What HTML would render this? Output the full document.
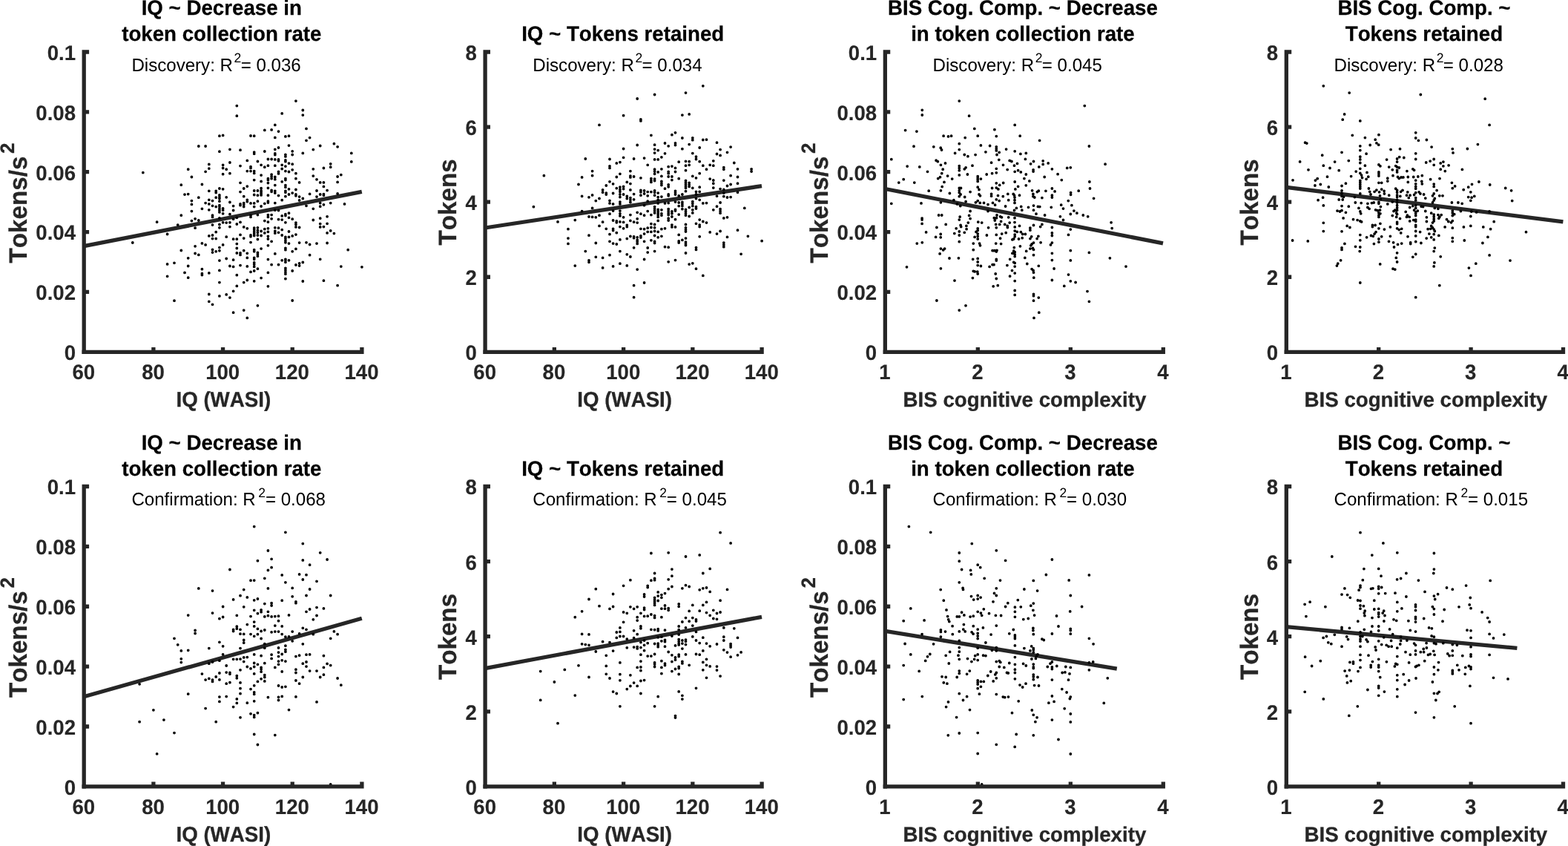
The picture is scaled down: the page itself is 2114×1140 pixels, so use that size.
<!DOCTYPE html>
<html lang="en"><head><meta charset="utf-8"><title>Scatter plots: IQ and BIS cognitive complexity vs token measures</title>
<style>html,body{margin:0;padding:0;background:#fff;overflow:hidden}svg{display:block}text{font-family:"Liberation Sans",sans-serif;font-kerning:none;font-variant-ligatures:none;text-rendering:geometricPrecision}.tk{font-weight:bold;font-size:27.6px;fill:#262626;stroke:#262626;stroke-width:.15px}.lb{font-weight:bold;font-size:27.7px;fill:#262626;stroke:#262626;stroke-width:.3px}.yl{font-weight:bold;font-size:33.2px;fill:#262626;stroke:#262626;stroke-width:.3px}.tt{font-weight:bold;font-size:27.7px;fill:#000;stroke:#000;stroke-width:.25px}.an{font-size:24.1px;fill:#000}.ax{fill:none;stroke:#262626;stroke-width:5.3}.rl{fill:none;stroke:#262626;stroke-width:5.3}.d{fill:none;stroke:#000;stroke-width:3.8;stroke-linecap:round}</style></head><body>
<svg width="2114" height="1140" viewBox="0 0 2114 1140" role="img" aria-label="Eight scatter plots with regression lines">
<rect width="2114" height="1140" fill="#fff"/>
<g id="p00">
<path class="rl" d="M113.2 331.6L487.8 258.4"/>
<path class="d" d="M398.9 136.1h0M319.3 142.6h0M408.3 148.5h0M380.2 152.9h0M408.3 155.1h0M319.3 156.2h0M370.8 168.4h0M413 173.4h0M356.8 175.4h0M366.1 174.9h0M375.5 177.1h0M295.9 183.2h0M300.6 182.4h0M338 183h0M342.7 183.2h0M370.8 185.4h0M384.9 183.9h0M389.5 183.2h0M417.6 185.6h0M413 189.3h0M450.4 193.7h0M267.8 197h0M277.1 197h0M389.5 196.1h0M431.7 196.5h0M455.1 197.8h0M375.5 199h0M309.9 201.3h0M324 202.2h0M370.8 201.3h0M422.3 201.6h0M295.9 204.2h0M356.8 204h0M394.2 203.8h0M342.7 205.1h0M342.7 207.2h0M370.8 206.8h0M370.8 208.5h0M408.3 206.4h0M473.8 206.4h0M384.9 208.5h0M384.9 210.9h0M394.2 208.5h0M361.4 214.5h0M366.1 214.5h0M370.8 214.9h0M375.5 214.9h0M375.5 216.8h0M384.9 215.8h0M384.9 217.7h0M333.3 216.4h0M347.4 217.5h0M473.8 217.9h0M309.9 219h0M281.8 221.4h0M300.6 222.3h0M352.1 222.3h0M361.4 223.2h0M370.8 223.2h0M380.2 222.3h0M384.9 224.1h0M389.5 220.1h0M394.2 221.2h0M445.7 220.8h0M324 223.6h0M338 224.7h0M338 226.4h0M356.8 225.2h0M445.7 225.2h0M300.6 226.5h0M305.2 228.2h0M253.7 228.2h0M281.8 227.1h0M380.2 227.5h0M394.2 228.8h0M422.3 227.8h0M436.4 226.5h0M277.1 231.3h0M333.3 230.6h0M338 230.6h0M342.7 230.6h0M342.7 233.4h0M375.5 231.5h0M375.5 233.9h0M384.9 230.6h0M389.5 231.5h0M192.8 232.6h0M300.6 234.7h0M309.9 233.7h0M398.9 233.7h0M352.1 236.1h0M366.1 235.2h0M366.1 238h0M370.8 238.5h0M459.8 235.6h0M258.4 238.5h0M422.3 237.1h0M455.1 238h0M361.4 240.7h0M361.4 242.6h0M366.1 240.7h0M370.8 241.7h0M384.9 240.7h0M384.9 242.6h0M398.9 240.7h0M342.7 242.6h0M352.1 244.4h0M380.2 244.8h0M427 241.8h0M324 246.3h0M361.4 246.6h0M403.6 245.9h0M431.7 245.9h0M436.4 245.9h0M455.1 245.4h0M272.4 248.5h0M244.3 249.2h0M370.8 249.6h0M384.9 249.6h0M333.3 251.1h0M384.9 252.2h0M436.4 251.4h0M295.9 254h0M300.6 254.8h0M328.7 254h0M352.1 253.7h0M361.4 253.3h0M389.5 254.8h0M398.9 255.5h0M281.8 257.3h0M291.2 257.3h0M291.2 259.6h0M324 258.6h0M342.7 257h0M347.4 257h0M352.1 257h0M352.1 258.8h0M366.1 256.4h0M366.1 258.3h0M370.8 257.3h0M370.8 260.1h0M384.9 257.3h0M384.9 259.2h0M427 257h0M441.1 256.6h0M249 262.1h0M253.7 261.6h0M295.9 262.9h0M342.7 262.5h0M347.4 263.2h0M352.1 261h0M352.1 262.9h0M361.4 263.2h0M375.5 263.6h0M389.5 262h0M394.2 260.1h0M398.9 262h0M398.9 263.8h0M417.6 261.4h0M431.7 262h0M436.4 261.6h0M436.4 263.2h0M455.1 261h0M267.8 266.2h0M291.2 266.2h0M295.9 265.6h0M295.9 267.5h0M305.2 265.8h0M328.7 264.7h0M384.9 264.7h0M403.6 265.1h0M427 265.1h0M408.3 267.5h0M281.8 269.3h0M286.5 270.6h0M258.4 270.6h0M333.3 269.3h0M333.3 271.7h0M347.4 271.2h0M361.4 271.2h0M380.2 269.7h0M403.6 269.9h0M295.9 271.2h0M277.1 273.6h0M281.8 274.9h0M258.4 275.4h0M309.9 272.5h0M324 274.9h0M324 276.7h0M328.7 273.6h0M328.7 275.8h0M338 273.9h0M342.7 273.9h0M356.8 274.3h0M361.4 273h0M370.8 273.6h0M431.7 273.6h0M436.4 275.8h0M445.7 273.6h0M464.5 274.9h0M286.5 277.3h0M291.2 278.6h0M295.9 276.7h0M295.9 278.6h0M314.6 277.6h0M328.7 278.6h0M342.7 278.6h0M352.1 278h0M413 277.3h0M431.7 278.2h0M272.4 281.3h0M295.9 281.3h0M300.6 281h0M281.8 282.8h0M295.9 283.5h0M300.6 283.2h0M314.6 283.5h0M422.3 281.3h0M258.4 284.6h0M375.5 283.5h0M370.8 283.2h0M295.9 285.9h0M300.6 287.8h0M309.9 288.7h0M389.5 287.2h0M384.9 288.7h0M244.3 290.2h0M286.5 290.2h0M286.5 292.4h0M338 290.2h0M338 292.4h0M347.4 289.6h0M361.4 289.6h0M366.1 289.6h0M361.4 292.4h0M380.2 290.9h0M384.9 290.6h0M441.1 291.8h0M263.1 294.8h0M295.9 293.9h0M314.6 295.2h0M319.3 293.3h0M366.1 294.8h0M375.5 295.7h0M380.2 296.1h0M389.5 293.3h0M394.2 295.2h0M431.7 294.2h0M422.3 296.5h0M258.4 297.6h0M267.8 297h0M356.8 297.6h0M361.4 299.2h0M384.9 299.8h0M211.6 299.2h0M300.6 299.8h0M305.2 300.1h0M309.9 299.8h0M324 299.4h0M398.9 300.1h0M441.1 301.3h0M431.7 301.6h0M239.7 303.1h0M286.5 303.1h0M295.9 302.5h0M319.3 302h0M398.9 302.5h0M263.1 307.2h0M295.9 306.8h0M309.9 305.6h0M328.7 305.9h0M333.3 307.8h0M342.7 307.2h0M342.7 309.6h0M342.7 312.4h0M342.7 315.1h0M342.7 317.5h0M347.4 306.8h0M347.4 310.5h0M347.4 313.3h0M347.4 317h0M352.1 311.5h0M352.1 317.5h0M356.8 308.7h0M356.8 313.9h0M361.4 307.8h0M361.4 312.4h0M361.4 318.3h0M361.4 322h0M370.8 306.8h0M370.8 311.5h0M370.8 314.2h0M375.5 307.2h0M375.5 313.3h0M380.2 309.6h0M380.2 317h0M389.5 312h0M398.9 305.9h0M403.6 306.5h0M431.7 305.9h0M436.4 305.6h0M445.7 310.9h0M441.1 313.9h0M450.4 314.6h0M291.2 312.7h0M225.6 315.5h0M281.8 317.9h0M286.5 317h0M324 316.4h0M338 317h0M338 318.8h0M398.9 316.1h0M394.2 317.9h0M305.2 319.2h0M384.9 319.4h0M384.9 321.6h0M384.9 324.4h0M384.9 326.8h0M389.5 319.4h0M286.5 321.6h0M291.2 321.6h0M328.7 321.1h0M314.6 322.2h0M319.3 322.2h0M347.4 322.5h0M366.1 325.3h0M338 326.6h0M178.8 327h0M272.4 327.9h0M277.1 329.9h0M300.6 329.9h0M319.3 328.6h0M389.5 328.1h0M403.6 327.1h0M413 326.8h0M417.6 329.5h0M427 328.1h0M441.1 327.5h0M263.1 331.8h0M361.4 330.8h0M295.9 333.6h0M319.3 334.5h0M352.1 335.1h0M384.9 334.5h0M384.9 336.7h0M398.9 335.4h0M244.3 337.5h0M286.5 336.4h0M291.2 338.8h0M295.9 337.8h0M286.5 340.1h0M328.7 337.7h0M342.7 336.7h0M342.7 338.8h0M394.2 338.8h0M469.2 336.7h0M263.1 341.5h0M267.8 343.4h0M319.3 341h0M324 341h0M324 343.4h0M333.3 341.3h0M347.4 340.4h0M347.4 342.8h0M347.4 345.2h0M370.8 341.9h0M417.6 343.7h0M253.7 347.8h0M305.2 348.5h0M314.6 350.2h0M295.9 351.1h0M333.3 347.4h0M342.7 347.4h0M342.7 349.3h0M361.4 349.6h0M380.2 350.8h0M384.9 349.3h0M384.9 351.1h0M384.9 353.3h0M389.5 350.8h0M431.7 349.3h0M235 354.3h0M225.6 355.9h0M408.3 353.5h0M403.6 354.8h0M342.7 353.9h0M342.7 356.3h0M342.7 359.4h0M366.1 356.7h0M375.5 356.7h0M398.9 357h0M403.6 358.1h0M253.7 358.5h0M309.9 358.5h0M314.6 359.4h0M324 357.6h0M333.3 358.9h0M459.8 359.1h0M487.9 359.8h0M272.4 362.7h0M295.9 364.4h0M347.4 362.2h0M384.9 361.3h0M384.9 364h0M384.9 366.8h0M384.9 369.2h0M342.7 365h0M338 366.4h0M394.2 365h0M249 367.4h0M281.8 367.9h0M272.4 368.6h0M272.4 370.5h0M361.4 367.4h0M225.6 372.3h0M319.3 370.7h0M253.7 374.2h0M352.1 374.6h0M384.9 375.7h0M333.3 377.5h0M342.7 378.8h0M328.7 380.6h0M295.9 380.6h0M408.3 379h0M436.4 378.2h0M455.1 384.7h0M319.3 385.4h0M361.4 385.8h0M314.6 392.3h0M281.8 396.5h0M305.2 396.9h0M295.9 398.9h0M309.9 401.1h0M235 405.2h0M281.8 406.3h0M394.2 405h0M286.5 410.3h0M347.4 411.8h0M328.7 418.1h0M314.6 421.2h0M333.3 428.4h0"/>
<path class="ax" d="M113.2 67.35V474.3H490.55M206.88 474.3v-6.3M300.55 474.3v-6.3M394.22 474.3v-6.3M487.9 474.3v-6.3M113.2 393.44h6.9M113.2 312.58h6.9M113.2 231.72h6.9M113.2 150.86h6.9M113.2 70h6.9"/>
<rect x="110.55" y="471.65" width="5.3" height="5.3" fill="#262626"/>
<text class="tk" text-anchor="middle" transform="translate(112.8 511.3) scale(1 1.03)">60</text>
<text class="tk" text-anchor="middle" transform="translate(206.47 511.3) scale(1 1.03)">80</text>
<text class="tk" text-anchor="middle" transform="translate(300.15 511.3) scale(1 1.03)">100</text>
<text class="tk" text-anchor="middle" transform="translate(393.82 511.3) scale(1 1.03)">120</text>
<text class="tk" text-anchor="middle" transform="translate(487.5 511.3) scale(1 1.03)">140</text>
<text class="tk" text-anchor="end" transform="translate(102 485.2) scale(1 1.03)">0</text>
<text class="tk" text-anchor="end" transform="translate(102 404.34) scale(1 1.03)">0.02</text>
<text class="tk" text-anchor="end" transform="translate(102 323.48) scale(1 1.03)">0.04</text>
<text class="tk" text-anchor="end" transform="translate(102 242.62) scale(1 1.03)">0.06</text>
<text class="tk" text-anchor="end" transform="translate(102 161.76) scale(1 1.03)">0.08</text>
<text class="tk" text-anchor="end" transform="translate(102 80.9) scale(1 1.03)">0.1</text>
<text class="lb" text-anchor="middle" transform="translate(301.3 548) scale(1 1.04)">IQ (WASI)</text>
<text class="yl" transform="translate(35.8 354.5) rotate(-90) scale(1 1.02)">Tokens/s<tspan dy="-16.4" dx="3.7" style="font-size:26px">2</tspan></text>
<text class="tt" text-anchor="middle" transform="translate(298.8 20.2) scale(1 1.02)">IQ ~ Decrease in</text>
<text class="tt" text-anchor="middle" transform="translate(298.8 55.4) scale(1 1.02)">token collection rate</text>
<text class="an" transform="translate(177.4 95.5) scale(1 1.02)">Discovery: R<tspan dy="-10.9" dx="1.6" style="font-size:17.5px">2</tspan><tspan dy="10.9" dx="-0.6">= 0.036</tspan></text>
</g>
<g id="p01">
<path class="rl" d="M654.1 307L1027 250.6"/>
<path class="d" d="M947.8 115.8h0M924.5 125.1h0M882.6 127.5h0M859.2 133h0M929.2 153.9h0M919.9 155.1h0M840.6 155.7h0M863.9 161h0M863.9 162.9h0M808 168.4h0M910.5 178.8h0M905.9 181.7h0M877.9 182.3h0M919.9 186h0M933.8 185.8h0M933.8 188.7h0M947.8 188.5h0M952.5 188.2h0M966.5 192.2h0M896.5 193h0M910.5 192.8h0M910.5 195.5h0M929.2 194.6h0M859.2 195.5h0M882.6 195.2h0M901.2 196.8h0M985.1 198.1h0M943.2 199h0M840.6 200.5h0M919.9 200.7h0M882.6 201.1h0M887.2 202.6h0M971.1 201.6h0M980.5 205.3h0M882.6 206.1h0M896.5 206.8h0M933.8 206.6h0M966.5 207.5h0M971.1 209.4h0M938.5 211.2h0M891.9 211.8h0M840.6 212.3h0M868.6 213.1h0M854.6 214h0M789.3 214h0M822 214.5h0M882.6 214.9h0M887.2 214.9h0M938.5 214.5h0M943.2 217.7h0M915.2 218.2h0M924.5 217.3h0M929.2 217.7h0M961.8 216.8h0M835.9 218.6h0M831.3 219.9h0M989.8 219.5h0M873.2 222.3h0M929.2 222.3h0M924.5 223.2h0M947.8 223.2h0M957.2 222.3h0M961.8 223.2h0M822 223.8h0M822 226.4h0M901.2 224.7h0M905.9 224.1h0M910.5 226.4h0M975.8 225.6h0M975.8 228.2h0M882.6 228.2h0M891.9 227.8h0M994.5 227.8h0M1013.1 227.8h0M1013.1 231h0M952.5 228.2h0M924.5 229.7h0M798.6 230.6h0M849.9 230.6h0M882.6 231.1h0M887.2 231.9h0M901.2 231.5h0M901.2 233.7h0M910.5 231.5h0M835.9 234.3h0M943.2 233.7h0M882.6 234.3h0M733.4 236.7h0M798.6 236.7h0M891.9 237.4h0M901.2 238h0M905.9 238h0M933.8 237.4h0M985.1 236.7h0M784.6 238.9h0M831.3 238.5h0M849.9 237.1h0M849.9 238.9h0M854.6 238h0M863.9 239.8h0M994.5 238.5h0M938.5 239.8h0M877.9 240.7h0M877.9 243.5h0M882.6 241.1h0M882.6 243.5h0M915.2 240.7h0M957.2 241.1h0M905.9 242.6h0M961.8 243h0M975.8 243.1h0M822 244.8h0M891.9 244.4h0M845.3 245.4h0M877.9 245.4h0M924.5 243.5h0M924.5 245.9h0M924.5 248.5h0M924.5 250.9h0M924.5 253.3h0M929.2 246.3h0M929.2 249h0M929.2 251.4h0M826.6 247.8h0M849.9 247.6h0M891.9 247.2h0M891.9 249.6h0M901.2 249h0M901.2 251.8h0M961.8 247.2h0M994.5 247.2h0M780 248.5h0M985.1 248.5h0M817.3 250h0M980.5 250.5h0M840.6 251.4h0M835.9 252.2h0M831.3 253.7h0M943.2 252.2h0M961.8 253.1h0M933.8 253.3h0M896.5 254.2h0M812.6 255.9h0M835.9 255.5h0M835.9 258.3h0M840.6 254.6h0M849.9 255.9h0M863.9 256.4h0M863.9 258.8h0M868.6 257h0M882.6 257h0M882.6 259.2h0M910.5 257.3h0M910.5 259.6h0M924.5 257.7h0M971.1 254.6h0M975.8 255.5h0M938.5 258.3h0M943.2 258.3h0M812.6 259.2h0M817.3 260.1h0M817.3 262h0M826.6 260.5h0M873.2 258.6h0M877.9 258.6h0M887.2 260.1h0M994.5 259.2h0M975.8 260.1h0M854.6 261.6h0M840.6 262h0M835.9 262h0M868.6 261h0M901.2 262h0M901.2 263.8h0M910.5 262h0M919.9 262h0M938.5 262h0M798.6 262.9h0M784.6 264.4h0M863.9 263.2h0M873.2 263.8h0M882.6 263.2h0M845.3 264.4h0M915.2 263.8h0M966.5 264.2h0M975.8 264.7h0M794 265.8h0M835.9 265.6h0M887.2 265.6h0M891.9 265.1h0M980.5 266h0M985.1 265.6h0M808 267.5h0M845.3 267.5h0M849.9 266.6h0M849.9 269.3h0M854.6 268.8h0M938.5 267.5h0M943.2 269.3h0M803.3 270.6h0M822 270.3h0M887.2 269.3h0M873.2 271.2h0M822 273.9h0M826.6 274.9h0M835.9 272.1h0M835.9 274.9h0M849.9 272.5h0M910.5 272.1h0M915.2 273h0M919.9 272.5h0M919.9 274.9h0M933.8 271.7h0M933.8 274.3h0M947.8 273.9h0M952.5 273.6h0M971.1 273h0M896.5 273.9h0M901.2 273.6h0M887.2 273.9h0M719.4 278.7h0M868.6 276.7h0M915.2 277.6h0M919.9 277.6h0M933.8 277.6h0M938.5 278.6h0M966.5 278.2h0M882.6 278.6h0M798.6 280.4h0M882.6 281.3h0M887.2 282.3h0M891.9 282.8h0M901.2 281.7h0M910.5 282.3h0M919.9 281.7h0M924.5 282.3h0M929.2 279.5h0M933.8 282.8h0M938.5 281h0M961.8 282.8h0M971.1 281.7h0M1003.8 280.4h0M826.6 284.1h0M835.9 284.1h0M784.6 284.6h0M873.2 284.6h0M882.6 284.1h0M887.2 284.6h0M901.2 284.6h0M905.9 285h0M910.5 284.1h0M924.5 285h0M971.1 284.6h0M822 288.2h0M835.9 287.8h0M859.2 286.3h0M863.9 288.2h0M882.6 286.9h0M887.2 287.2h0M891.9 287.8h0M901.2 287.2h0M905.9 287.8h0M924.5 287.8h0M933.8 286.9h0M971.1 287.2h0M849.9 289.6h0M868.6 290.2h0M877.9 289.6h0M887.2 289.6h0M891.9 290.2h0M901.2 289.6h0M915.2 289.1h0M924.5 290.2h0M808 290.2h0M794 292h0M798.6 292.4h0M803.3 292.8h0M835.9 290.9h0M840.6 292.8h0M887.2 292.4h0M905.9 292h0M929.2 291.5h0M980.5 292.8h0M975.8 293.9h0M859.2 294.8h0M901.2 294.2h0M910.5 295.7h0M943.2 296.1h0M775.3 296.6h0M826.6 297h0M831.3 297.9h0M849.9 297.4h0M887.2 297.4h0M901.2 297h0M938.5 301.3h0M752 298.9h0M812.6 299.2h0M831.3 299.8h0M835.9 298.9h0M840.6 299.4h0M854.6 299.2h0M859.2 300.1h0M947.8 298.5h0M952.5 300.1h0M877.9 301.6h0M882.6 302.5h0M905.9 303.1h0M924.5 302.5h0M943.2 303.1h0M845.3 303.5h0M808 304.4h0M766 308.7h0M817.3 308.3h0M826.6 308.3h0M826.6 310.5h0M835.9 305.6h0M840.6 307.8h0M845.3 305.6h0M863.9 308.3h0M868.6 308.7h0M873.2 307.2h0M877.9 306.5h0M882.6 306.8h0M891.9 308.7h0M896.5 307.8h0M905.9 305.9h0M910.5 305.9h0M924.5 306.8h0M924.5 309.6h0M924.5 312h0M943.2 305.6h0M994.5 310.2h0M971.1 311.5h0M957.2 312.9h0M966.5 315.1h0M831.3 313.7h0M822 315.7h0M873.2 312.4h0M877.9 312.4h0M882.6 311.5h0M887.2 312.4h0M868.6 315.1h0M794 317.2h0M915.2 316.4h0M882.6 317.5h0M891.9 318.3h0M887.2 319.8h0M863.9 317.9h0M863.9 320.1h0M849.9 318.5h0M854.6 318.8h0M854.6 320.7h0M859.2 319.8h0M943.2 318.8h0M980.5 319.4h0M1008.4 318.3h0M766 321.1h0M845.3 321.6h0M924.5 321.1h0M835.9 322.9h0M859.2 323.4h0M859.2 325.7h0M877.9 323.8h0M919.9 323.4h0M868.6 325.3h0M915.2 324.9h0M915.2 327.1h0M822 325.3h0M882.6 325.3h0M882.6 327.5h0M924.5 326.2h0M924.5 328.6h0M924.5 330.5h0M1027.1 324.7h0M803.3 327.5h0M826.6 328.1h0M831.3 329h0M766 328.4h0M859.2 328.4h0M975.8 327.1h0M975.8 329.9h0M975.8 332.7h0M854.6 333.8h0M873.2 334h0M896.5 332.7h0M901.2 333.2h0M938.5 333.6h0M938.5 336.4h0M789.3 338.6h0M835.9 338.6h0M882.6 338.6h0M873.2 340.1h0M924.5 341h0M999.1 342.3h0M822 343.7h0M845.3 342.8h0M803.3 346.3h0M812.6 347.4h0M849.9 346h0M794 350.8h0M794 353.3h0M868.6 349.5h0M910.5 350.6h0M901.2 352.8h0M835.9 355.2h0M933.8 354.8h0M929.2 356.1h0M775.3 358.1h0M826.6 358.9h0M845.3 357.9h0M812.6 360.9h0M938.5 362.2h0M859.2 363.1h0M947.8 371.4h0M868.6 381h0M854.6 384.7h0M854.6 400.7h0"/>
<path class="ax" d="M654.1 67.35V474.3H1029.75M747.35 474.3v-6.3M840.6 474.3v-6.3M933.85 474.3v-6.3M1027.1 474.3v-6.3M654.1 373.23h6.9M654.1 272.15h6.9M654.1 171.07h6.9M654.1 70h6.9"/>
<rect x="651.45" y="471.65" width="5.3" height="5.3" fill="#262626"/>
<text class="tk" text-anchor="middle" transform="translate(653.7 511.3) scale(1 1.03)">60</text>
<text class="tk" text-anchor="middle" transform="translate(746.95 511.3) scale(1 1.03)">80</text>
<text class="tk" text-anchor="middle" transform="translate(840.2 511.3) scale(1 1.03)">100</text>
<text class="tk" text-anchor="middle" transform="translate(933.45 511.3) scale(1 1.03)">120</text>
<text class="tk" text-anchor="middle" transform="translate(1026.7 511.3) scale(1 1.03)">140</text>
<text class="tk" text-anchor="end" transform="translate(642.9 485.2) scale(1 1.03)">0</text>
<text class="tk" text-anchor="end" transform="translate(642.9 384.12) scale(1 1.03)">2</text>
<text class="tk" text-anchor="end" transform="translate(642.9 283.05) scale(1 1.03)">4</text>
<text class="tk" text-anchor="end" transform="translate(642.9 181.97) scale(1 1.03)">6</text>
<text class="tk" text-anchor="end" transform="translate(642.9 80.9) scale(1 1.03)">8</text>
<text class="lb" text-anchor="middle" transform="translate(842.2 548) scale(1 1.04)">IQ (WASI)</text>
<text class="yl" text-anchor="middle" transform="translate(615.3 272.45) rotate(-90) scale(1 1.02)">Tokens</text>
<text class="tt" text-anchor="middle" transform="translate(839.7 55.4) scale(1 1.02)">IQ ~ Tokens retained</text>
<text class="an" transform="translate(718.3 95.5) scale(1 1.02)">Discovery: R<tspan dy="-10.9" dx="1.6" style="font-size:17.5px">2</tspan><tspan dy="10.9" dx="-0.6">= 0.034</tspan></text>
</g>
<g id="p02">
<path class="rl" d="M1193.35 254.5L1568 327.9"/>
<path class="d" d="M1293.3 136.1h0M1462.3 142.6h0M1243.3 148.3h0M1243.3 155h0M1306.6 156.2h0M1368.2 168.4h0M1313.8 173.4h0M1340.9 174.7h0M1220.6 175.6h0M1235.9 177.1h0M1272.1 183.2h0M1278.5 183.9h0M1282.6 183.2h0M1318.2 183.2h0M1343.3 183.6h0M1375.2 183.2h0M1301.2 185.6h0M1401.6 189.3h0M1293.3 193.7h0M1322.4 195.9h0M1334.6 196.5h0M1232 197.2h0M1258.8 197.8h0M1468.4 197h0M1343.3 197.8h0M1343.3 200.5h0M1343.3 202.9h0M1268.2 199.2h0M1269.5 202h0M1293.3 201.6h0M1356.6 201.1h0M1347.2 205.3h0M1368.2 203.8h0M1328.9 204.8h0M1383.3 206.4h0M1375.9 207.4h0M1287.6 206.4h0M1300.3 208.5h0M1315.1 208.6h0M1304.9 210.7h0M1344 208.5h0M1201.8 214.7h0M1346.8 215.3h0M1382.4 214.4h0M1262.1 216.2h0M1264.3 217.7h0M1361.2 216.4h0M1363.9 217.5h0M1393.5 217.5h0M1406.2 216.8h0M1274.5 219.9h0M1371.5 220.4h0M1389.6 220.8h0M1406.2 221.4h0M1413.2 219.9h0M1490.1 221.2h0M1336.6 219.2h0M1268.4 222.3h0M1352.5 222.3h0M1367.5 223.2h0M1311 223.2h0M1223.2 224.1h0M1239.8 224.9h0M1293.3 223.6h0M1293.3 226.4h0M1293.3 229.7h0M1302.1 225.8h0M1300.3 227.8h0M1400.8 224.9h0M1438.7 226.4h0M1443.3 225.8h0M1271.2 228.2h0M1343.3 227.3h0M1358.2 228.6h0M1418.4 227.8h0M1393.1 228.8h0M1393.1 231.1h0M1250.5 231.3h0M1368.2 231.3h0M1372.6 229.7h0M1376.3 231.9h0M1343.3 232.8h0M1337.6 233.7h0M1269.7 233.7h0M1330.2 235h0M1304.4 235h0M1383.3 235h0M1426.1 234.7h0M1293.3 235.9h0M1277.6 237.1h0M1318.2 237.6h0M1318.2 239.8h0M1318.2 242h0M1318.2 244.4h0M1267.5 238.7h0M1264.7 240.6h0M1408.2 238.5h0M1322.4 241.1h0M1283.7 241.1h0M1380.9 240.6h0M1218.2 241.7h0M1431.3 242.6h0M1387.9 243.9h0M1273 245.4h0M1368.2 245h0M1468.9 245h0M1211.8 246.1h0M1232.8 246.1h0M1352.7 246.5h0M1343.3 246.8h0M1347.7 249.4h0M1383.3 249.8h0M1270.2 251.6h0M1318.2 252.2h0M1372.6 251.3h0M1343.3 253.1h0M1337.6 253.5h0M1293.3 253.5h0M1295.5 253.5h0M1418.4 254h0M1469.5 254h0M1345.9 254.9h0M1368.9 254.9h0M1320 255.5h0M1268.4 256.8h0M1252.2 257.2h0M1293.3 256.8h0M1391.6 256.8h0M1400.3 257.2h0M1398.4 258.6h0M1409.9 257.3h0M1422.1 257.9h0M1454.2 257.2h0M1308.1 258.6h0M1293.3 259.6h0M1443.6 259.6h0M1280.4 260.5h0M1358.8 261.4h0M1366.2 261.4h0M1336.6 261.4h0M1295.1 262h0M1392.9 261.4h0M1443.6 262.3h0M1320 262h0M1321.5 263.8h0M1336.6 264.2h0M1345.5 263.6h0M1352.3 264.7h0M1367.5 263.2h0M1374.5 263.2h0M1418.4 263.2h0M1392.9 264.7h0M1293.3 264.7h0M1300.7 265.5h0M1368 266h0M1394.8 266h0M1404.9 266.6h0M1418.4 266h0M1474.6 267.3h0M1343.3 268.8h0M1359.7 269.7h0M1368 269.7h0M1347.2 270.6h0M1440.3 270.6h0M1285.9 269.7h0M1318.2 270.6h0M1302.1 271.6h0M1315.4 272.8h0M1321.3 273.4h0M1326.5 273.4h0M1338.5 273.4h0M1368 273.4h0M1201.8 274.3h0M1242 273.9h0M1268.4 272.8h0M1290.5 274.9h0M1332 275.6h0M1341.6 276.2h0M1430.7 276.2h0M1444.9 276.7h0M1294.8 277.5h0M1355.6 278h0M1376.7 278.4h0M1386.5 279.3h0M1393.5 277.1h0M1399.4 278.4h0M1401.8 278.6h0M1417.3 279.3h0M1370.4 280.4h0M1433.5 281.1h0M1377.8 283.2h0M1393.5 283.2h0M1367.5 283.5h0M1447.9 284.1h0M1308.1 284.5h0M1332 284.5h0M1451.9 287.2h0M1397 288.2h0M1443.3 288.5h0M1408.6 290h0M1460.3 290h0M1265.6 290h0M1269.7 290h0M1306.6 290.4h0M1344 290h0M1429.4 291.8h0M1466.7 291.8h0M1294.2 292.2h0M1348.6 291.8h0M1350.5 292.8h0M1359.7 292.8h0M1340.3 293.7h0M1343.5 293.7h0M1368 293.7h0M1243.1 294.1h0M1308.1 294.6h0M1243.1 296.1h0M1293.3 296.1h0M1433.5 296.5h0M1341.3 297h0M1349.6 298.3h0M1318.8 299.2h0M1323.7 300.1h0M1305.3 300.1h0M1361.2 300.1h0M1368 299.6h0M1498.1 299.8h0M1243.1 301.4h0M1275.2 302.4h0M1342.7 302.4h0M1347.7 302.4h0M1354.7 302.4h0M1404.9 302.4h0M1295.1 303.5h0M1393.5 303.5h0M1302.9 304.4h0M1358.2 304.4h0M1374.5 304.4h0M1262.9 306.5h0M1289.2 307.8h0M1295.7 305.6h0M1303.1 308.7h0M1318.2 307.8h0M1332.6 306.8h0M1343.3 306.8h0M1358.4 306.5h0M1368.2 305.9h0M1388.9 307.2h0M1388.9 310.2h0M1402.7 305.6h0M1418.4 306.5h0M1443.3 309.1h0M1499.2 307.6h0M1293.3 312h0M1293.3 317h0M1300.3 313.3h0M1286.8 314.6h0M1248.6 312.9h0M1268.2 315.5h0M1268.2 319.8h0M1261.6 319.4h0M1318.2 310.5h0M1316 312.4h0M1318.2 315.1h0M1318.2 318.3h0M1318.2 322h0M1314.1 319.4h0M1330.4 317h0M1343.3 316.4h0M1350.7 315.1h0M1356.2 313.7h0M1368.2 311.1h0M1371.3 312.4h0M1368.2 316.1h0M1368.2 318.8h0M1366.7 322h0M1364.9 322.9h0M1376.3 312.7h0M1378.7 315.5h0M1382.4 315.5h0M1378.2 320.7h0M1373.5 322h0M1390.7 318.8h0M1388.9 321.6h0M1399.9 318.3h0M1398.1 321.6h0M1418.4 313.9h0M1418.4 317.5h0M1440.5 316.4h0M1348.6 321.2h0M1293.3 325.7h0M1236.3 328.1h0M1243.3 326.8h0M1312.3 328.1h0M1320.6 328.1h0M1321.5 330.8h0M1342.7 328.1h0M1349.6 328.6h0M1393.5 327.1h0M1391.1 329h0M1389.8 330.8h0M1403.1 326.8h0M1418.4 327.1h0M1416.5 329.9h0M1375.4 331.8h0M1367.3 333.6h0M1268.4 335.1h0M1273.6 335.1h0M1271.7 336.9h0M1312.3 336.7h0M1338.1 337.7h0M1340.9 337.7h0M1344 337.3h0M1343.3 339.1h0M1383.7 338.4h0M1388.9 335.1h0M1392.5 334.5h0M1393.5 336.4h0M1366.7 338.2h0M1368.2 339.7h0M1364.9 341.3h0M1368.2 342.8h0M1368.2 345.6h0M1443.3 337.7h0M1468.4 340.4h0M1267.1 341.9h0M1418.4 341.3h0M1393.5 343.7h0M1280 348h0M1292.4 347.8h0M1311.7 349.3h0M1318.2 348.4h0M1318.2 353h0M1343.3 349.3h0M1343.3 351.1h0M1361.7 349.3h0M1381.8 347.4h0M1418.4 350.6h0M1443.3 350.9h0M1496.4 347.8h0M1366.7 353.3h0M1368.2 354.4h0M1384.8 355.5h0M1338.1 356.7h0M1340 356.7h0M1318.2 357.6h0M1322.4 358.5h0M1334.1 359.4h0M1357.9 357.6h0M1368.2 359.1h0M1400.3 358.3h0M1518 359.1h0M1222.5 359.8h0M1268.4 361.8h0M1421.1 362h0M1391.1 362.6h0M1393.1 364.4h0M1393.5 367.2h0M1364.5 364.6h0M1312.3 365.3h0M1314.1 365.9h0M1317.8 366.2h0M1318.2 369h0M1368.2 368.1h0M1342.2 369h0M1440.5 370.1h0M1361.6 372.2h0M1311.4 374.6h0M1343.3 375.5h0M1393.8 374.2h0M1287 378.1h0M1368.2 378.6h0M1418.4 377.5h0M1443.3 378.8h0M1450.1 380.5h0M1345.3 384.7h0M1339.2 385.8h0M1434.8 385.4h0M1368.2 391.5h0M1466 392.6h0M1393.5 396.3h0M1393.5 398.7h0M1368.2 397.4h0M1400.3 401.1h0M1262.9 405h0M1393.5 405.2h0M1468.4 406.3h0M1302 411.8h0M1293.3 418.1h0M1400.8 421.2h0M1394 428.4h0"/>
<path class="ax" d="M1193.35 67.35V474.3H1570.95M1318.33 474.3v-6.3M1443.32 474.3v-6.3M1568.3 474.3v-6.3M1193.35 393.44h6.9M1193.35 312.58h6.9M1193.35 231.72h6.9M1193.35 150.86h6.9M1193.35 70h6.9"/>
<rect x="1190.7" y="471.65" width="5.3" height="5.3" fill="#262626"/>
<text class="tk" text-anchor="middle" transform="translate(1192.95 511.3) scale(1 1.03)">1</text>
<text class="tk" text-anchor="middle" transform="translate(1317.93 511.3) scale(1 1.03)">2</text>
<text class="tk" text-anchor="middle" transform="translate(1442.92 511.3) scale(1 1.03)">3</text>
<text class="tk" text-anchor="middle" transform="translate(1567.9 511.3) scale(1 1.03)">4</text>
<text class="tk" text-anchor="end" transform="translate(1182.15 485.2) scale(1 1.03)">0</text>
<text class="tk" text-anchor="end" transform="translate(1182.15 404.34) scale(1 1.03)">0.02</text>
<text class="tk" text-anchor="end" transform="translate(1182.15 323.48) scale(1 1.03)">0.04</text>
<text class="tk" text-anchor="end" transform="translate(1182.15 242.62) scale(1 1.03)">0.06</text>
<text class="tk" text-anchor="end" transform="translate(1182.15 161.76) scale(1 1.03)">0.08</text>
<text class="tk" text-anchor="end" transform="translate(1182.15 80.9) scale(1 1.03)">0.1</text>
<text class="lb" text-anchor="middle" transform="translate(1381.45 548) scale(1 1.01)">BIS cognitive complexity</text>
<text class="yl" transform="translate(1115.95 354.5) rotate(-90) scale(1 1.02)">Tokens/s<tspan dy="-16.4" dx="3.7" style="font-size:26px">2</tspan></text>
<text class="tt" text-anchor="middle" transform="translate(1378.95 20.2) scale(1 1.02)">BIS Cog. Comp. ~ Decrease</text>
<text class="tt" text-anchor="middle" transform="translate(1378.95 55.4) scale(1 1.02)">in token collection rate</text>
<text class="an" transform="translate(1257.55 95.5) scale(1 1.02)">Discovery: R<tspan dy="-10.9" dx="1.6" style="font-size:17.5px">2</tspan><tspan dy="10.9" dx="-0.6">= 0.045</tspan></text>
</g>
<g id="p03">
<path class="rl" d="M1734.3 252.3L2107.4 298.8"/>
<path class="d" d="M1784.3 115.8h0M1819.2 125.1h0M1915.3 127.5h0M2002.2 133.2h0M1812.6 153.9h0M1810.2 161.2h0M1833.8 162.9h0M2008.1 168.4h0M1908.7 178.8h0M1858.9 181.7h0M1823.3 182.3h0M1840.4 185.6h0M1908.7 186h0M1854.2 188.2h0M1912.4 189.3h0M1923.4 188.5h0M1759.6 192.2h0M1761.8 193.1h0M1855.9 192.8h0M1858.7 195.2h0M1992.4 194.6h0M1847.2 195.5h0M1833.8 196.8h0M1930.1 198.1h0M1887.5 200.7h0M1875.1 201.6h0M1958.3 200.7h0M1978.4 200.5h0M1833.8 202.6h0M1809 205.3h0M1959 205.9h0M1908.7 206.8h0M1842.1 207.2h0M1782.7 209.2h0M1833.8 211.2h0M1833.8 214.9h0M1886.7 211.6h0M1892.8 212.5h0M1883.6 214h0M1908.7 214.5h0M1869.6 215.1h0M1933.2 214.5h0M1818.3 216.6h0M1928.2 217.1h0M1752.6 217.9h0M1799.6 218.1h0M1883.6 218.1h0M1922.7 219h0M1945.9 218.1h0M1942.2 219.9h0M1833.8 219.5h0M1858.9 221.9h0M1860.9 223.8h0M1933.2 222.3h0M1953.1 222.8h0M1784.3 223.2h0M1840.4 223.2h0M1945.9 223.8h0M1881.7 223.6h0M1883.6 225.1h0M1886.3 226h0M1793 226.5h0M1872.7 225.1h0M1833.8 227.3h0M1764 228.8h0M1877.3 228.8h0M1883.6 229.3h0M1883.6 231.9h0M1904.8 227.8h0M1906.6 229.3h0M1942.2 228.2h0M1971.4 228.4h0M1805.2 229.7h0M1896.9 230.6h0M1948.3 230.6h0M1828.2 231.1h0M1858.9 231.9h0M1858.9 234.3h0M1858.9 237.1h0M1843 232.4h0M1833.8 233.4h0M1835.6 236.1h0M1878 236.7h0M1917.3 236.7h0M1821.6 237.6h0M1789.5 238.2h0M1844.8 238.2h0M1884.5 238.5h0M1886.3 240.4h0M1889.1 238.9h0M1891.9 238.9h0M1898.3 238.5h0M1905.7 238.5h0M1911.8 238h0M1836.5 239.5h0M1842.1 241.3h0M1870.8 240.2h0M1776.2 240.7h0M1928.6 241.7h0M1941 240.6h0M1743 242.8h0M1773.4 243.1h0M1908.7 243.1h0M1870.8 244.1h0M1833.8 243.5h0M1833.8 245.9h0M1833.8 248.7h0M1916.8 244.4h0M1898.3 245.4h0M1993.9 245h0M1858.9 246.3h0M1862.7 246.3h0M1814.4 247.2h0M1957.4 246.3h0M1780.3 248.5h0M1908.7 247.8h0M1917.3 247.8h0M1933.2 248.1h0M1984.5 248.3h0M2008.7 249h0M1772.9 250h0M1809 250.5h0M1961.6 250.9h0M1908.7 251.4h0M1933.2 251.4h0M1791.3 252h0M1979.7 252.2h0M1833.8 251.4h0M1833.8 254h0M1958.3 253.7h0M2029.7 253.5h0M1845.4 254h0M1881.7 254.2h0M1908.7 254.2h0M1862.7 255.1h0M1855.9 256.1h0M1973.2 255.7h0M1809 257h0M1883.6 256.4h0M1883.6 259.2h0M1891 256.4h0M1888.6 258.3h0M1866.1 257.3h0M1937.1 256.6h0M2037.6 256.8h0M1846.7 258.3h0M1853.1 258.3h0M1859.6 258.8h0M1897.8 258.8h0M1913.1 258.8h0M1908.7 259.7h0M1982.8 258.8h0M1809 260.7h0M1833.8 261h0M1866.4 261h0M1848 262h0M1914.9 261h0M1919.6 262h0M1933.2 261h0M1906.6 262.5h0M1896.5 263.2h0M1901.1 263.2h0M1872.7 263.2h0M1860.5 263.8h0M1883.6 262.9h0M1883.6 265.6h0M1887.8 264.4h0M1931.5 263.8h0M1940.8 263.8h0M1945 263.8h0M1809 264.4h0M1811.6 265.3h0M1987.8 264.4h0M1783.6 266.2h0M1826.4 265.6h0M1979.7 265.6h0M1984.1 266.2h0M1899.3 266.6h0M1908.7 266.6h0M1921.8 267.1h0M1934.3 267.5h0M1805.2 269h0M1810.2 269h0M1777.1 269.7h0M1861.4 268.4h0M1877.3 272.1h0M1883.6 269.3h0M1908.7 269.9h0M1933.2 269.9h0M1982.8 270.3h0M2038.7 270.6h0M1827.3 273h0M1835.2 273.6h0M1843.9 274.3h0M1849.4 273.6h0M1852.2 273h0M1858.9 272.5h0M1858.9 274.3h0M1870.8 274.9h0M1883.6 273h0M1931.5 273h0M1957.4 273h0M1965.9 273h0M1971.2 274.3h0M1784.3 276.9h0M1809 277.6h0M1818.3 278.2h0M1861.4 278.6h0M1883.6 276.7h0M1904.8 277.6h0M1908.7 276.7h0M1916.2 278.2h0M1918.6 278.6h0M1831.9 280.4h0M1843.9 279.5h0M1846.1 281.3h0M1900.7 279.5h0M1908.7 280.4h0M1934.3 280.4h0M1938.9 281.3h0M1883.6 280h0M1854.6 282.8h0M1857.2 283.7h0M1860.5 283.2h0M1880.8 283.2h0M1879 284.6h0M1883.6 283.2h0M1906.6 283.2h0M1911.3 284.1h0M1921.8 284.5h0M1908.7 285.9h0M1958.3 284.1h0M1969.4 284.6h0M1983.8 285h0M1990.6 285.9h0M2008.1 285h0M1803 284.1h0M1806.5 285h0M1809 283.7h0M1814.4 286.3h0M1833.8 285h0M1895.2 285.4h0M1834.7 287.8h0M1858.9 286.9h0M1860.9 287.8h0M1882.7 286.9h0M1908.7 287.8h0M1929.7 287.2h0M1933.2 289.1h0M1958.3 286.9h0M1960.7 288.7h0M1858.9 290.2h0M1877.3 290.6h0M1883.6 288.7h0M1897.4 290.2h0M1908.7 290.6h0M1938.9 289.6h0M1943.2 289.6h0M1958.3 290.6h0M1982.8 291.5h0M1858.9 292.4h0M1882.7 292.4h0M1896.5 292.4h0M1900.2 292.4h0M1923.4 292.8h0M1933.2 292h0M1940.8 292.4h0M1811.1 293.9h0M1824.5 295.7h0M1830.1 296.6h0M1887.5 294.6h0M1933.2 295.2h0M1939.8 294.2h0M1950.5 295.7h0M1908.7 296.1h0M1905.7 296.6h0M1833.8 297.9h0M1835.6 298.9h0M1900.7 297.9h0M1908.7 298.3h0M1923.4 298.5h0M1933.2 297.9h0M1952.8 298.5h0M1958.3 297.6h0M2014.2 298.7h0M1784.3 300.3h0M1883.6 299.4h0M1883.6 301.6h0M1860.9 301.3h0M1931.5 300.1h0M1956.5 299.8h0M1908.7 303.5h0M1816.2 304.4h0M1850.4 303.5h0M1854.1 303.5h0M1929.7 304.4h0M1982.8 304.4h0M1819.9 306.5h0M1850.4 305.6h0M1858.9 307.8h0M1866.4 309.1h0M1874.4 305.9h0M1883.6 307.8h0M1886.3 309.6h0M1889.7 308.3h0M1908.7 305.6h0M1925.1 308.7h0M1928.8 308.3h0M1931.5 306.8h0M1933.2 309.1h0M1934.3 311.5h0M1948.1 305.9h0M1958.3 307.2h0M1973.4 305.9h0M1999.8 305.9h0M2009.6 308.7h0M1784.3 311.6h0M1809 311.8h0M2057.5 312.7h0M1908.7 311.5h0M1914.6 312.6h0M1855 312.7h0M1853.1 315.1h0M1888.7 313.9h0M1926.9 315.1h0M1933.2 315.7h0M1833.8 316.6h0M1848.5 317.5h0M1851.3 318.3h0M1874.4 318.3h0M1862.7 318.8h0M1842.6 319.8h0M1898 318.8h0M1908.7 317.9h0M1939.8 317.4h0M1929.7 319.8h0M1923.2 321.1h0M2005.9 319.4h0M1958.3 320.7h0M1858.9 322h0M1933.2 322.9h0M1742.6 324h0M1763.3 324.9h0M1833.8 323.8h0M1974.3 324h0M1872.5 325.3h0M1908.7 325.7h0M1958.3 325.3h0M1858.9 326.2h0M1878.6 326.8h0M1901.7 326.8h0M1901.7 328.6h0M1915.9 327.5h0M1812.9 328.4h0M1852.4 328.6h0M1884.5 329.4h0M1889.7 328.1h0M1998.9 327.5h0M1827.5 332.3h0M1833.8 333h0M1879.5 333h0M1809 334h0M1809 336.4h0M1934.3 334.1h0M1833.2 338.6h0M1933.2 338.6h0M1883.6 340.8h0M1908.7 342.5h0M2008.1 343.9h0M1904.8 346.3h0M1942.2 345.8h0M1882.3 347.4h0M1807.6 350.8h0M2036 351.1h0M1883.6 353h0M1933.9 353.9h0M1803.7 355.2h0M1860.7 355.9h0M1989.8 355.2h0M1802.4 358.1h0M1933.2 358.9h0M1980.4 361.1h0M1878 362.2h0M1880.8 363.1h0M1983 371.4h0M1833.8 381h0M1940.8 384.7h0M1908.7 400.7h0"/>
<path class="ax" d="M1734.3 67.35V474.3H2110.15M1858.7 474.3v-6.3M1983.1 474.3v-6.3M2107.5 474.3v-6.3M1734.3 373.23h6.9M1734.3 272.15h6.9M1734.3 171.07h6.9M1734.3 70h6.9"/>
<rect x="1731.65" y="471.65" width="5.3" height="5.3" fill="#262626"/>
<text class="tk" text-anchor="middle" transform="translate(1733.9 511.3) scale(1 1.03)">1</text>
<text class="tk" text-anchor="middle" transform="translate(1858.3 511.3) scale(1 1.03)">2</text>
<text class="tk" text-anchor="middle" transform="translate(1982.7 511.3) scale(1 1.03)">3</text>
<text class="tk" text-anchor="middle" transform="translate(2107.1 511.3) scale(1 1.03)">4</text>
<text class="tk" text-anchor="end" transform="translate(1723.1 485.2) scale(1 1.03)">0</text>
<text class="tk" text-anchor="end" transform="translate(1723.1 384.12) scale(1 1.03)">2</text>
<text class="tk" text-anchor="end" transform="translate(1723.1 283.05) scale(1 1.03)">4</text>
<text class="tk" text-anchor="end" transform="translate(1723.1 181.97) scale(1 1.03)">6</text>
<text class="tk" text-anchor="end" transform="translate(1723.1 80.9) scale(1 1.03)">8</text>
<text class="lb" text-anchor="middle" transform="translate(1922.4 548) scale(1 1.01)">BIS cognitive complexity</text>
<text class="yl" text-anchor="middle" transform="translate(1695.5 272.45) rotate(-90) scale(1 1.02)">Tokens</text>
<text class="tt" text-anchor="middle" transform="translate(1919.9 20.2) scale(1 1.02)">BIS Cog. Comp. ~</text>
<text class="tt" text-anchor="middle" transform="translate(1919.9 55.4) scale(1 1.02)">Tokens retained</text>
<text class="an" transform="translate(1798.5 95.5) scale(1 1.02)">Discovery: R<tspan dy="-10.9" dx="1.6" style="font-size:17.5px">2</tspan><tspan dy="10.9" dx="-0.6">= 0.028</tspan></text>
</g>
<g id="p10">
<path class="rl" d="M113.2 938.8L487.8 833.3"/>
<path class="d" d="M342.7 709.6h0M384.9 717.3h0M408.3 732.6h0M361.4 742h0M431.7 744.8h0M366.1 753.3h0M347.4 755.7h0M441.1 754h0M408.3 754.9h0M417.6 761.2h0M366.1 764.7h0M309.9 767.5h0M361.4 768.4h0M380.2 774.9h0M403.6 773.9h0M413 774.7h0M356.8 779.3h0M408.3 781h0M338 782.2h0M342.7 782.1h0M427 783.3h0M384.9 784.8h0M267.8 792.9h0M361.4 792.9h0M394.2 792.4h0M328.7 794.6h0M286.5 796.1h0M417.6 794h0M324 802.7h0M413 802.5h0M445.7 802.5h0M394.2 803.8h0M333.3 804.9h0M347.4 807h0M314.6 807.9h0M342.7 808.8h0M380.2 809.2h0M398.9 810.8h0M398.9 812.7h0M356.8 813.6h0M366.1 812.7h0M366.1 816h0M300.6 817.5h0M328.7 817.8h0M427 818.6h0M436.4 819.9h0M417.6 821h0M342.7 822.3h0M352.1 821.9h0M352.1 824.7h0M361.4 824.3h0M413 824.3h0M286.5 826.1h0M347.4 826.7h0M253.7 829.1h0M319.3 829.3h0M389.5 828.9h0M427 829.5h0M338 830.6h0M356.8 830.9h0M361.4 829.7h0M366.1 830.9h0M370.8 830.6h0M375.5 830.2h0M300.6 831.5h0M295.9 833.7h0M422.3 834.8h0M375.5 836.7h0M342.7 838.1h0M333.3 841.6h0M319.3 844.2h0M342.7 843.9h0M370.8 843.1h0M380.2 843.9h0M408.3 846.3h0M319.3 847.2h0M324 848.3h0M314.6 848.3h0M314.6 850.5h0M263.1 849.4h0M263.1 853.5h0M347.4 847.4h0M352.1 850.5h0M356.8 849h0M413 848.3h0M366.1 851.8h0M370.8 851.1h0M375.5 851.1h0M394.2 851.1h0M450.4 850.9h0M324 854.2h0M328.7 854.4h0M338 854.6h0M347.4 854.7h0M380.2 854.6h0M403.6 853.8h0M422.3 854.7h0M455.1 854.7h0M342.7 857.3h0M384.9 858.2h0M389.5 857.9h0M235 860.3h0M352.1 860.5h0M445.7 860.3h0M328.7 862.5h0M394.2 863.8h0M295.9 865.3h0M328.7 866.2h0M239.7 868.8h0M408.3 867.8h0M356.8 867.7h0M300.6 870.8h0M384.9 870.2h0M281.8 873.6h0M324 873.6h0M356.8 873.2h0M375.5 873h0M244.3 876.9h0M253.7 876.3h0M384.9 875.4h0M384.9 878.2h0M375.5 879.1h0M380.2 881.5h0M300.6 881.9h0M342.7 881.9h0M366.1 882.2h0M352.1 883.7h0M403.6 883.2h0M413 882.2h0M417.6 881.9h0M436.4 883.7h0M398.9 884.6h0M375.5 884.6h0M328.7 885.9h0M333.3 885.6h0M244.3 887.8h0M314.6 888.3h0M319.3 888.3h0M324 888.1h0M366.1 887.4h0M295.9 890.2h0M380.2 889.8h0M375.5 891.1h0M384.9 891.1h0M244.3 892.6h0M286.5 892h0M328.7 891.6h0M413 892h0M281.8 894.2h0M342.7 893.5h0M356.8 893.7h0M408.3 894.2h0M441.1 894.4h0M347.4 895.3h0M375.5 895.3h0M305.2 897h0M445.7 896.6h0M333.3 898.5h0M342.7 898.5h0M413 898.1h0M370.8 899.4h0M352.1 899.4h0M436.4 899.4h0M324 902.8h0M338 900.9h0M352.1 901.8h0M352.1 905.2h0M380.2 905h0M398.9 902.2h0M398.9 906.5h0M417.6 904.1h0M427 904.1h0M272.4 908.1h0M295.9 907h0M305.2 906.1h0M309.9 906.5h0M309.9 908.3h0M342.7 907.9h0M319.3 910.7h0M319.3 913.8h0M356.8 909.6h0M356.8 912.5h0M436.4 909.2h0M431.7 912.5h0M291.2 912h0M408.3 912.5h0M455.1 914h0M281.8 914.4h0M277.1 916.1h0M286.5 916.2h0M286.5 918.4h0M295.9 915.9h0M352.1 914.8h0M356.8 917.9h0M347.4 918.4h0M398.9 917h0M309.9 919.7h0M305.2 921.2h0M324 919.9h0M188.1 921.8h0M403.6 921.2h0M459.8 923.2h0M342.7 923.8h0M375.5 924h0M380.2 926h0M384.9 925.3h0M324 927.7h0M338 928.6h0M253.7 935.2h0M324 934.7h0M342.7 932.8h0M342.7 935.4h0M295.9 939.1h0M305.2 938.6h0M361.4 939.7h0M375.5 939.3h0M380.2 938.4h0M398.9 938.9h0M319.3 941.9h0M375.5 943.5h0M295.9 945.4h0M342.7 944.8h0M427 945.9h0M319.3 947.4h0M333.3 947.2h0M314.6 952.6h0M277.1 954.6h0M206.9 956.8h0M389.5 956.6h0M338 961.8h0M347.4 960.7h0M342.7 963.6h0M342.7 966.4h0M324 966.8h0M220.9 970.1h0M188.1 972.7h0M291.2 972.7h0M235 987.6h0M342.7 989.5h0M370.8 990.6h0M347.4 1003.5h0M211.6 1015.9h0M445.7 1057h0"/>
<path class="ax" d="M113.2 652.85V1059.9H490.55M206.88 1059.9v-6.3M300.55 1059.9v-6.3M394.22 1059.9v-6.3M487.9 1059.9v-6.3M113.2 979.02h6.9M113.2 898.14h6.9M113.2 817.26h6.9M113.2 736.38h6.9M113.2 655.5h6.9"/>
<rect x="110.55" y="1057.25" width="5.3" height="5.3" fill="#262626"/>
<text class="tk" text-anchor="middle" transform="translate(112.8 1096.9) scale(1 1.03)">60</text>
<text class="tk" text-anchor="middle" transform="translate(206.47 1096.9) scale(1 1.03)">80</text>
<text class="tk" text-anchor="middle" transform="translate(300.15 1096.9) scale(1 1.03)">100</text>
<text class="tk" text-anchor="middle" transform="translate(393.82 1096.9) scale(1 1.03)">120</text>
<text class="tk" text-anchor="middle" transform="translate(487.5 1096.9) scale(1 1.03)">140</text>
<text class="tk" text-anchor="end" transform="translate(102 1070.8) scale(1 1.03)">0</text>
<text class="tk" text-anchor="end" transform="translate(102 989.92) scale(1 1.03)">0.02</text>
<text class="tk" text-anchor="end" transform="translate(102 909.04) scale(1 1.03)">0.04</text>
<text class="tk" text-anchor="end" transform="translate(102 828.16) scale(1 1.03)">0.06</text>
<text class="tk" text-anchor="end" transform="translate(102 747.28) scale(1 1.03)">0.08</text>
<text class="tk" text-anchor="end" transform="translate(102 666.4) scale(1 1.03)">0.1</text>
<text class="lb" text-anchor="middle" transform="translate(301.3 1133.6) scale(1 1.04)">IQ (WASI)</text>
<text class="yl" transform="translate(35.8 940.1) rotate(-90) scale(1 1.02)">Tokens/s<tspan dy="-16.4" dx="3.7" style="font-size:26px">2</tspan></text>
<text class="tt" text-anchor="middle" transform="translate(298.8 605.7) scale(1 1.02)">IQ ~ Decrease in</text>
<text class="tt" text-anchor="middle" transform="translate(298.8 640.9) scale(1 1.02)">token collection rate</text>
<text class="an" transform="translate(177.4 681.4) scale(1 1.02)">Confirmation: R<tspan dy="-10.9" dx="3.6" style="font-size:17.5px">2</tspan><tspan dy="10.9" dx="-0.2">= 0.068</tspan></text>
</g>
<g id="p11">
<path class="rl" d="M654.1 900.6L1027 831.3"/>
<path class="d" d="M971.1 717.7h0M985.1 731.9h0M877.9 745.5h0M901.2 744.8h0M943.2 747.9h0M924.5 750h0M905.9 767.1h0M957.2 766.4h0M882.6 772.5h0M947.8 772.5h0M905.9 776.2h0M849.9 781.7h0M877.9 782.2h0M882.6 779.5h0M882.6 781.7h0M901.2 780.8h0M840.6 789.3h0M873.2 789.3h0M873.2 791.5h0M924.5 788.7h0M929.2 790.5h0M905.9 790.5h0M803.3 793.7h0M901.2 793.7h0M919.9 792.8h0M947.8 792.8h0M952.5 792h0M943.2 794.8h0M980.5 794.4h0M957.2 797.4h0M887.2 797.9h0M826.6 800.5h0M896.5 799.6h0M868.6 800.9h0M868.6 804h0M891.9 801.6h0M887.2 803.1h0M882.6 805.3h0M891.9 805.3h0M794 807.5h0M882.6 808.1h0M882.6 810.3h0M882.6 812.7h0M882.6 815.4h0M887.2 809.5h0M971.1 809.2h0M952.5 811.4h0M915.2 814h0M915.2 817.3h0M896.5 816h0M933.8 815.4h0M947.8 815.4h0M808 816.7h0M826.6 817.5h0M849.9 817.8h0M859.2 817.8h0M822 820.4h0M854.6 820.4h0M868.6 819.1h0M868.6 821.5h0M891.9 820.2h0M896.5 820.2h0M901.2 819.7h0M901.2 822.3h0M784.6 823.8h0M929.2 823.4h0M943.2 823.2h0M961.8 822.3h0M840.6 824.9h0M845.3 826.3h0M863.9 826.3h0M952.5 825.6h0M966.5 826.5h0M971.1 825h0M877.9 828h0M957.2 829.3h0M775.3 831.7h0M859.2 831.7h0M868.6 830.4h0M873.2 830.2h0M882.6 829.7h0M882.6 832.4h0M891.9 831.7h0M924.5 832.6h0M933.8 832.6h0M961.8 833.5h0M966.5 834.3h0M859.2 836.1h0M938.5 834.8h0M938.5 837h0M840.6 838.3h0M919.9 838h0M929.2 837.2h0M863.9 844h0M863.9 846.8h0M915.2 844h0M933.8 843.1h0M835.9 845.9h0M924.5 845.9h0M975.8 845.9h0M989.8 846.8h0M854.6 849.8h0M877.9 848.3h0M882.6 848.7h0M887.2 847.7h0M887.2 849.9h0M896.5 849.2h0M915.2 848.7h0M831.3 852h0M835.9 851.4h0M938.5 851.4h0M784.6 854.4h0M794 854.9h0M859.2 854.7h0M915.2 855.1h0M835.9 857.5h0M840.6 857.5h0M831.3 859.4h0M905.9 857h0M933.8 857.9h0M854.6 859.7h0M887.2 858.8h0M891.9 858.2h0M947.8 859.2h0M975.8 858.2h0M994.5 859.4h0M845.3 861.2h0M915.2 861.6h0M915.2 864.3h0M919.9 863h0M924.5 862.1h0M924.5 864.3h0M896.5 862.5h0M896.5 864.7h0M891.9 863.8h0M868.6 863h0M938.5 863h0M975.8 863h0M812.6 864.7h0M822 865.6h0M863.9 865.6h0M873.2 866.7h0M882.6 867.5h0M887.2 867.1h0M887.2 869.3h0M915.2 867.1h0M915.2 868.9h0M919.9 867.1h0M924.5 868.6h0M943.2 866.6h0M952.5 867.1h0M966.5 868h0M985.1 867.7h0M985.1 869.9h0M784.6 867.8h0M789.3 868.6h0M794 869.3h0M868.6 869.3h0M910.5 869.9h0M957.2 870.8h0M985.1 872.1h0M845.3 872.8h0M854.6 872.1h0M859.2 871.7h0M859.2 873.9h0M863.9 872.6h0M887.2 871.7h0M896.5 871.2h0M919.9 874.1h0M975.8 875.8h0M826.6 877.1h0M803.3 878h0M868.6 876.7h0M901.2 878.5h0M947.8 876.9h0M980.5 879.1h0M999.1 878.9h0M863.9 882.2h0M882.6 881.5h0M905.9 882.8h0M915.2 882.2h0M915.2 884.6h0M924.5 881.9h0M938.5 881.5h0M943.2 882.2h0M994.5 882.8h0M817.3 883.3h0M873.2 884.1h0M877.9 884.1h0M985.1 885.2h0M910.5 885.9h0M952.5 888.3h0M910.5 889.2h0M863.9 891.1h0M891.9 890.7h0M905.9 891.6h0M919.9 891.5h0M919.9 893.9h0M947.8 892.4h0M835.9 892.9h0M882.6 892.9h0M882.6 895.1h0M896.5 894.2h0M896.5 896.6h0M780 896.8h0M817.3 897.4h0M929.2 896.3h0M952.5 896.3h0M957.2 897.9h0M966.5 898.1h0M859.2 899.4h0M863.9 899h0M882.6 898.5h0M891.9 899.4h0M915.2 898.5h0M728.7 904.6h0M761.3 902.4h0M863.9 903.7h0M910.5 901.5h0M905.9 904.6h0M915.2 900.6h0M947.8 902.8h0M966.5 903.1h0M817.3 908.3h0M835.9 908.7h0M849.9 909.8h0M891.9 907.7h0M915.2 908.5h0M971.1 911.1h0M794 912.5h0M952.5 913.3h0M822 914h0M835.9 916.8h0M863.9 917.5h0M868.6 916.6h0M747.4 919h0M854.6 920.1h0M849.9 924.5h0M859.2 924.4h0M938.5 927.3h0M845.3 928.6h0M826.6 932.1h0M831.3 934.5h0M863.9 934.5h0M915.2 931.9h0M775.3 937.1h0M919.9 937.3h0M887.2 938.7h0M919.9 942.1h0M728.7 943.4h0M835.9 951.8h0M882.6 951.8h0M910.5 964.6h0M910.5 967h0M752 974.7h0"/>
<path class="ax" d="M654.1 652.85V1059.9H1029.75M747.35 1059.9v-6.3M840.6 1059.9v-6.3M933.85 1059.9v-6.3M1027.1 1059.9v-6.3M654.1 958.8h6.9M654.1 857.7h6.9M654.1 756.6h6.9M654.1 655.5h6.9"/>
<rect x="651.45" y="1057.25" width="5.3" height="5.3" fill="#262626"/>
<text class="tk" text-anchor="middle" transform="translate(653.7 1096.9) scale(1 1.03)">60</text>
<text class="tk" text-anchor="middle" transform="translate(746.95 1096.9) scale(1 1.03)">80</text>
<text class="tk" text-anchor="middle" transform="translate(840.2 1096.9) scale(1 1.03)">100</text>
<text class="tk" text-anchor="middle" transform="translate(933.45 1096.9) scale(1 1.03)">120</text>
<text class="tk" text-anchor="middle" transform="translate(1026.7 1096.9) scale(1 1.03)">140</text>
<text class="tk" text-anchor="end" transform="translate(642.9 1070.8) scale(1 1.03)">0</text>
<text class="tk" text-anchor="end" transform="translate(642.9 969.7) scale(1 1.03)">2</text>
<text class="tk" text-anchor="end" transform="translate(642.9 868.6) scale(1 1.03)">4</text>
<text class="tk" text-anchor="end" transform="translate(642.9 767.5) scale(1 1.03)">6</text>
<text class="tk" text-anchor="end" transform="translate(642.9 666.4) scale(1 1.03)">8</text>
<text class="lb" text-anchor="middle" transform="translate(842.2 1133.6) scale(1 1.04)">IQ (WASI)</text>
<text class="yl" text-anchor="middle" transform="translate(615.3 858) rotate(-90) scale(1 1.02)">Tokens</text>
<text class="tt" text-anchor="middle" transform="translate(839.7 640.9) scale(1 1.02)">IQ ~ Tokens retained</text>
<text class="an" transform="translate(718.3 681.4) scale(1 1.02)">Confirmation: R<tspan dy="-10.9" dx="3.6" style="font-size:17.5px">2</tspan><tspan dy="10.9" dx="-0.2">= 0.045</tspan></text>
</g>
<g id="p12">
<path class="rl" d="M1193.35 850.3L1505.8 901.2"/>
<path class="d" d="M1225.4 709.6h0M1254.7 717.3h0M1310.3 732.6h0M1343.3 741.8h0M1293.3 745h0M1418.4 754h0M1355.6 755.3h0M1293.3 756.2h0M1318.2 761.2h0M1321.7 764.7h0M1296.6 767.5h0M1308.6 768.4h0M1309.3 773.9h0M1410.4 774.5h0M1468.4 774.9h0M1327.2 779.3h0M1348.5 782.1h0M1393.3 782.4h0M1441.2 781.9h0M1293.3 784.8h0M1343.3 792.8h0M1298.1 792.4h0M1298.5 794.4h0M1268.2 794.6h0M1380.9 794h0M1398.6 796.1h0M1340.5 799.4h0M1343.3 802.5h0M1443.3 802.5h0M1309.5 803.6h0M1318.2 802.5h0M1322.1 805.1h0M1318.2 807.1h0M1312.7 808.1h0M1272.3 809.2h0M1372.3 808.6h0M1339 810.8h0M1358.8 812.7h0M1393.3 813.1h0M1389.8 816.2h0M1355.6 817.5h0M1368.4 818.2h0M1376.3 817.8h0M1458.6 817.5h0M1227.8 819.9h0M1276 821.9h0M1326.3 820.8h0M1392.9 822.3h0M1368.4 824.3h0M1318.2 824.3h0M1442.7 823.9h0M1296.6 825.2h0M1322.4 826.1h0M1323.7 829.3h0M1333.5 826.7h0M1299.9 828.9h0M1342.4 829.3h0M1349.6 829.5h0M1394.6 829.1h0M1277.6 830.6h0M1290.3 830.9h0M1293.3 830.9h0M1308.1 831.1h0M1312.3 830.2h0M1368.4 831.3h0M1424.5 830h0M1278.7 834.8h0M1279.8 837.6h0M1379.8 834.6h0M1386.3 833.5h0M1218.2 836.7h0M1246.1 835.9h0M1299.4 841.6h0M1284.1 843.7h0M1312.3 843.7h0M1343.3 843.1h0M1427 844h0M1325.4 845.9h0M1392.9 846.4h0M1268.4 849h0M1268.4 851.4h0M1298.8 848.1h0M1301.2 850.9h0M1318.2 848.1h0M1366.3 848.5h0M1392.9 849.6h0M1443.3 847.4h0M1443.3 849.6h0M1274.5 851.1h0M1293.3 850.9h0M1310.1 851.8h0M1312.1 854.2h0M1318.2 853.3h0M1243.1 854.6h0M1284.3 854.7h0M1336.1 855.1h0M1360.8 853.8h0M1393.3 854.7h0M1418.4 854h0M1443.3 854.2h0M1368.4 856h0M1368.4 858.2h0M1368.4 860.6h0M1318.2 857h0M1318.2 860.6h0M1268.4 858.2h0M1404.9 861.2h0M1407.3 862.5h0M1468.4 860.3h0M1293.3 863.4h0M1220.1 867.5h0M1258.6 867.8h0M1328.9 866h0M1474.1 867.8h0M1368.4 869.9h0M1390.7 870.8h0M1318.2 873.2h0M1293.3 872.6h0M1343.3 872.6h0M1380.9 873.6h0M1393.3 873.6h0M1393.3 875.8h0M1388.9 876.9h0M1337.4 876.3h0M1343.3 876.9h0M1280.6 878.4h0M1293.3 878.2h0M1393.3 879.1h0M1227.8 881.9h0M1253.8 881.5h0M1318.2 881.9h0M1399 881.9h0M1250.5 884.8h0M1275.2 883.3h0M1292 883.2h0M1314.7 883.7h0M1325.6 883.2h0M1328.9 883.7h0M1368.4 885.6h0M1397.2 884.6h0M1304.5 887.6h0M1293.3 888.3h0M1313.6 888.3h0M1318.2 889.6h0M1390.9 888h0M1396.4 887.4h0M1247.7 890.4h0M1309.9 891.6h0M1343.3 891.6h0M1347.3 890.7h0M1348.8 892.4h0M1418.4 892h0M1468.4 892.9h0M1473.7 892h0M1279.3 894h0M1360.8 893.5h0M1379.6 894.4h0M1368.4 895.3h0M1393.3 895.1h0M1416 894.2h0M1218.2 896.6h0M1383.3 897h0M1424.8 897.5h0M1347.3 898.5h0M1353.8 899.4h0M1393.3 898.8h0M1412.3 898.5h0M1418.4 899h0M1436.8 898.5h0M1443.3 899.4h0M1239.2 904.4h0M1293.3 904.1h0M1293.3 907.4h0M1307.3 904.1h0M1303.6 908.3h0M1335.7 905h0M1343.3 906.5h0M1341.8 908.9h0M1357.5 906.5h0M1359.3 907h0M1368.4 902.2h0M1368.4 906.5h0M1393.3 900.6h0M1418.4 901.5h0M1432.2 906.5h0M1435.9 905.9h0M1442 907.9h0M1468.4 902.8h0M1270 911.8h0M1275.2 912.5h0M1290.2 912.5h0M1331.8 910.5h0M1343.3 913.8h0M1368.4 914.8h0M1393.3 909.2h0M1393.3 912h0M1393.3 915.7h0M1399 912.5h0M1493.3 913.8h0M1418.4 916.1h0M1440.5 916.2h0M1339.2 917.9h0M1318.2 917h0M1318.2 919.4h0M1318.2 922.1h0M1322.4 918.4h0M1326.3 918.4h0M1272.3 919.9h0M1276.9 921.2h0M1383 921.2h0M1375 923.1h0M1378.7 926h0M1394.6 923.6h0M1400.5 924h0M1322.4 925.3h0M1318.2 927.7h0M1431.8 928.6h0M1438.1 933h0M1293.3 934.7h0M1320.4 935.2h0M1343.3 935.6h0M1303.6 938.7h0M1243.3 938.6h0M1352.3 939.1h0M1354.7 939.7h0M1359.5 939.1h0M1418.4 938h0M1443.3 939.1h0M1442.4 941.5h0M1218.2 942.6h0M1298.5 943.5h0M1373.2 944.8h0M1278.5 945.9h0M1421.1 945.4h0M1413.9 947.2h0M1488.3 947.4h0M1275.6 952.6h0M1435.2 954.8h0M1307.5 956.6h0M1391.3 957h0M1364.5 960.7h0M1393.3 963.3h0M1443.3 962h0M1289.6 966.6h0M1398.1 966.8h0M1418.4 970.1h0M1395.9 972.7h0M1443.3 972.9h0M1293.3 988h0M1318.2 987.6h0M1278.3 990.8h0M1370.2 989.5h0M1393.3 990.8h0M1427 996.5h0M1343.3 1003.3h0M1368.2 1006.4h0M1318.2 1015.5h0M1443.3 1016h0M1323.7 1057h0"/>
<path class="ax" d="M1193.35 652.85V1059.9H1570.95M1318.33 1059.9v-6.3M1443.32 1059.9v-6.3M1568.3 1059.9v-6.3M1193.35 979.02h6.9M1193.35 898.14h6.9M1193.35 817.26h6.9M1193.35 736.38h6.9M1193.35 655.5h6.9"/>
<rect x="1190.7" y="1057.25" width="5.3" height="5.3" fill="#262626"/>
<text class="tk" text-anchor="middle" transform="translate(1192.95 1096.9) scale(1 1.03)">1</text>
<text class="tk" text-anchor="middle" transform="translate(1317.93 1096.9) scale(1 1.03)">2</text>
<text class="tk" text-anchor="middle" transform="translate(1442.92 1096.9) scale(1 1.03)">3</text>
<text class="tk" text-anchor="middle" transform="translate(1567.9 1096.9) scale(1 1.03)">4</text>
<text class="tk" text-anchor="end" transform="translate(1182.15 1070.8) scale(1 1.03)">0</text>
<text class="tk" text-anchor="end" transform="translate(1182.15 989.92) scale(1 1.03)">0.02</text>
<text class="tk" text-anchor="end" transform="translate(1182.15 909.04) scale(1 1.03)">0.04</text>
<text class="tk" text-anchor="end" transform="translate(1182.15 828.16) scale(1 1.03)">0.06</text>
<text class="tk" text-anchor="end" transform="translate(1182.15 747.28) scale(1 1.03)">0.08</text>
<text class="tk" text-anchor="end" transform="translate(1182.15 666.4) scale(1 1.03)">0.1</text>
<text class="lb" text-anchor="middle" transform="translate(1381.45 1133.6) scale(1 1.01)">BIS cognitive complexity</text>
<text class="yl" transform="translate(1115.95 940.1) rotate(-90) scale(1 1.02)">Tokens/s<tspan dy="-16.4" dx="3.7" style="font-size:26px">2</tspan></text>
<text class="tt" text-anchor="middle" transform="translate(1378.95 605.7) scale(1 1.02)">BIS Cog. Comp. ~ Decrease</text>
<text class="tt" text-anchor="middle" transform="translate(1378.95 640.9) scale(1 1.02)">in token collection rate</text>
<text class="an" transform="translate(1257.55 681.4) scale(1 1.02)">Confirmation: R<tspan dy="-10.9" dx="3.6" style="font-size:17.5px">2</tspan><tspan dy="10.9" dx="-0.2">= 0.030</tspan></text>
</g>
<g id="p13">
<path class="rl" d="M1734.3 844.7L2045.4 873.4"/>
<path class="d" d="M1834 717.7h0M1864.9 731.9h0M1883.8 744.8h0M1933.4 745.5h0M1849.8 748.1h0M1795.8 750h0M1838.9 766.6h0M1858.7 766.4h0M1933.4 767.1h0M1895.9 772.5h0M1932.8 772.5h0M1862 776.2h0M1888.6 779.5h0M1883.6 780.8h0M1837.3 781.7h0M1912.4 782.1h0M2009.2 782.4h0M1834 789.1h0M1834 791.5h0M1976.6 789.1h0M1858.7 790.5h0M1858.7 793.3h0M1862.7 791.5h0M1812.9 792.9h0M1848.5 793.3h0M1850.9 792.8h0M1950.5 792h0M1958.3 794.2h0M1832.1 795.2h0M1921 797.4h0M1858.7 799.8h0M1867.7 799.6h0M1881 799.2h0M1809 801.1h0M1816.6 801.6h0M1938.6 800.7h0M1933.4 803.1h0M1895.9 804h0M1820.3 805.3h0M1982.3 805.5h0M1934.7 807.5h0M1830.6 809h0M1834 809.5h0M1852.8 809.2h0M1766.1 811.2h0M1883.8 811.4h0M1759.1 814.3h0M1908.5 814.9h0M1908.5 817.7h0M1981.2 814.9h0M1834 816h0M1838.4 816.7h0M1786.9 817.7h0M1931.4 817.7h0M1967 817.8h0M1834 820.2h0M1858.7 820.4h0M1852.8 821h0M1889.9 819.9h0M1933.4 820.6h0M1983 819.7h0M1947.2 821.5h0M1908.5 822.5h0M1840.2 823.2h0M1865.7 823.2h0M1883.8 823.8h0M1858.7 825.6h0M1858.7 827.4h0M1839.3 826.1h0M1864.2 826.1h0M1998.1 824.9h0M1933.4 828h0M1867 829.5h0M1839.9 829.7h0M1760.9 830.6h0M1858.7 831.1h0M1850 832.6h0M1908.5 831.5h0M1908.5 833.9h0M1919.7 833.5h0M2005.7 832.6h0M1879 834.8h0M1882.7 836.3h0M1898.9 836.7h0M1865.9 837h0M1830.8 837.2h0M1945 837.2h0M1908.5 838.1h0M2008.1 838h0M1850 844h0M1858.7 844h0M1809 845.5h0M1809 847.7h0M1819.4 846.3h0M1926.6 845.9h0M1930.4 846.8h0M1839.3 848.3h0M1873.6 847.9h0M1901.3 849.4h0M1858.7 849.9h0M1978 849.2h0M1983 849.8h0M1908.5 851.1h0M1848.5 851.4h0M1834 852h0M1877.7 854.7h0M2008.1 854.4h0M2027.8 855.1h0M1799.3 855.3h0M1788.4 857.5h0M1930.1 857h0M1933.4 858.2h0M1784.1 859.4h0M1815.7 857.9h0M1834 857.5h0M1836.9 857.5h0M1888.6 858.2h0M1865.7 858.8h0M1983 859.4h0M2013.5 859.9h0M1817.5 861.6h0M1834 861.2h0M1834 864h0M1842.1 861.9h0M1858.7 863.8h0M1875.6 863.4h0M1896.9 863h0M1843.9 864.7h0M1888.6 863.4h0M1790.8 865.8h0M1794.8 867.7h0M1923.1 866.6h0M1906.6 867.1h0M1933.4 866.7h0M1936 867.7h0M1945.8 866.7h0M1887.8 868h0M1862.7 868.6h0M1908.5 869.3h0M1958.3 868.6h0M1964.4 869.3h0M1869.2 869.3h0M1809 871.2h0M1834 871.2h0M1872.1 871.2h0M1876.2 871.2h0M1854.2 871.9h0M1883.8 873.2h0M1923.4 873h0M1919.2 874.5h0M1983 871.7h0M1855 876h0M1908.5 876.9h0M1958.3 876.9h0M1895 878.7h0M1915.3 878.7h0M1919.6 878.7h0M1932.8 877.3h0M1951.8 880.9h0M1834 882.4h0M1845 883.2h0M1901.3 882.2h0M1908.5 881.9h0M1925.5 882.4h0M1928.2 881.5h0M1934.1 882.4h0M1954.1 883.7h0M1958.3 883.3h0M1971.8 883.7h0M1983 881.9h0M1983 884.6h0M2008.1 882.4h0M1759.6 885.2h0M1883.8 884.6h0M1858.7 888.3h0M1834 889.6h0M1780.3 890.7h0M1920.7 890.7h0M1850.4 891.6h0M1869.4 891.8h0M1819.9 892.4h0M1824.5 892h0M1824.5 894.2h0M1899.6 892.9h0M1939.5 892.6h0M1881.7 894.4h0M1883.8 895.3h0M1848.2 896.3h0M1858.7 896.3h0M1912.9 896.3h0M1964.8 896.3h0M1768.6 897.5h0M1910 897.5h0M1980.4 897.5h0M1880.4 897.9h0M1908.5 898.5h0M1933.4 899h0M1834 899.4h0M1848.2 899h0M1858.7 899h0M1975.8 899.4h0M1983 899h0M1813.1 904.1h0M1819.4 903.1h0M1831 904.6h0M1858.7 904.6h0M1938.9 902.8h0M1958.3 903.3h0M1958.3 905.5h0M1958.3 907.9h0M1967 902.8h0M1983 901.5h0M1975.3 908.3h0M1815.7 910.9h0M1892.2 908.7h0M1883.8 909.8h0M1933.4 908.7h0M1860.7 912.7h0M1909 914h0M2013.5 913.3h0M2033 914.9h0M1883.8 916.6h0M1899.6 917h0M1821.2 917.7h0M1816.4 919.9h0M1931.4 919h0M1894.1 922.5h0M1981.9 924.4h0M1858.7 924.4h0M1858.7 927.1h0M1883.8 928.8h0M1843.9 929.5h0M1759.2 932.3h0M1866.4 932.1h0M1940.2 932.3h0M1933.4 934.3h0M1938 934.5h0M1858.7 937.3h0M1883.8 938.7h0M1784.3 941.9h0M1935.8 943.5h0M1830.3 951.8h0M1961.2 951.8h0M1908.5 960.1h0M1818.8 964.4h0M1933.4 966.8h0M1983 974.7h0"/>
<path class="ax" d="M1734.3 652.85V1059.9H2110.15M1858.7 1059.9v-6.3M1983.1 1059.9v-6.3M2107.5 1059.9v-6.3M1734.3 958.8h6.9M1734.3 857.7h6.9M1734.3 756.6h6.9M1734.3 655.5h6.9"/>
<rect x="1731.65" y="1057.25" width="5.3" height="5.3" fill="#262626"/>
<text class="tk" text-anchor="middle" transform="translate(1733.9 1096.9) scale(1 1.03)">1</text>
<text class="tk" text-anchor="middle" transform="translate(1858.3 1096.9) scale(1 1.03)">2</text>
<text class="tk" text-anchor="middle" transform="translate(1982.7 1096.9) scale(1 1.03)">3</text>
<text class="tk" text-anchor="middle" transform="translate(2107.1 1096.9) scale(1 1.03)">4</text>
<text class="tk" text-anchor="end" transform="translate(1723.1 1070.8) scale(1 1.03)">0</text>
<text class="tk" text-anchor="end" transform="translate(1723.1 969.7) scale(1 1.03)">2</text>
<text class="tk" text-anchor="end" transform="translate(1723.1 868.6) scale(1 1.03)">4</text>
<text class="tk" text-anchor="end" transform="translate(1723.1 767.5) scale(1 1.03)">6</text>
<text class="tk" text-anchor="end" transform="translate(1723.1 666.4) scale(1 1.03)">8</text>
<text class="lb" text-anchor="middle" transform="translate(1922.4 1133.6) scale(1 1.01)">BIS cognitive complexity</text>
<text class="yl" text-anchor="middle" transform="translate(1695.5 858) rotate(-90) scale(1 1.02)">Tokens</text>
<text class="tt" text-anchor="middle" transform="translate(1919.9 605.7) scale(1 1.02)">BIS Cog. Comp. ~</text>
<text class="tt" text-anchor="middle" transform="translate(1919.9 640.9) scale(1 1.02)">Tokens retained</text>
<text class="an" transform="translate(1798.5 681.4) scale(1 1.02)">Confirmation: R<tspan dy="-10.9" dx="3.6" style="font-size:17.5px">2</tspan><tspan dy="10.9" dx="-0.2">= 0.015</tspan></text>
</g>
</svg></body></html>
